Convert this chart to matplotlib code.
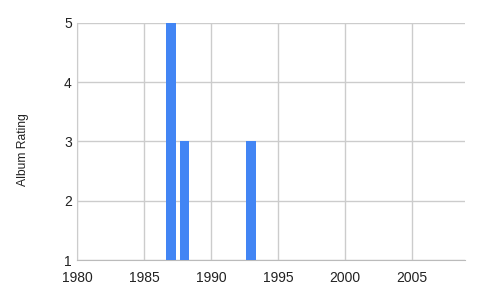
import matplotlib.pyplot as plt

plt.rcParams['font.family'] = ['Liberation Sans', 'DejaVu Sans']

# Data
years = [1987, 1988, 1993]
ratings = [5, 3, 3]
x_ticks = [1980, 1985, 1990, 1995, 2000, 2005]
y_ticks = [1, 2, 3, 4, 5]

fig = plt.figure(figsize=(4.8, 2.98), dpi=100)
ax = fig.add_axes([0.161, 0.1275, 0.808, 0.7963])

base = 1
ax.bar(years, [r - base for r in ratings], bottom=base, width=0.7,
       color='#4285f4', zorder=3)

ax.set_xlim(1980, 2009)
ax.set_ylim(1, 5)
ax.set_xticks(x_ticks)
ax.set_yticks(y_ticks)
ax.grid(True, color='#cccccc', linewidth=1, zorder=0)
for s in ['top', 'right']:
    ax.spines[s].set_visible(False)
ax.spines['left'].set_color('#cccccc')
ax.spines['bottom'].set_color('#bbbbbb')
ax.tick_params(length=0, labelsize=10, colors='#222222')
ax.tick_params(axis='x', pad=8)
ax.tick_params(axis='y', pad=4)
ax.set_ylabel('Album Rating', fontsize=8.7, color='#222222')
ax.yaxis.set_label_coords(-0.124, 0.4635)

fig.savefig('out.png', dpi=100)
